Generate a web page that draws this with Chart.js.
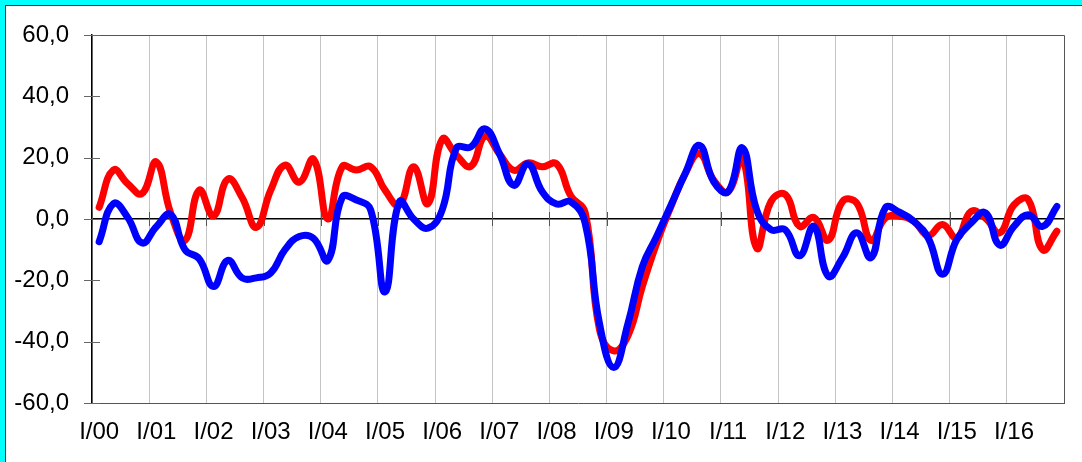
<!DOCTYPE html>
<html>
<head>
<meta charset="utf-8">
<script src="https://cdn.jsdelivr.net/npm/chart.js@4.4.1/dist/chart.umd.min.js"></script>
<style>
  html, body { margin: 0; padding: 0; background: #00FFFF; width: 1082px; height: 462px; overflow: hidden; }
  #frame { position: absolute; left: 5px; top: 5px; width: 1077px; height: 457px; background: #ffffff;
           border-left: 1px solid #333; border-top: 1px solid #333; box-sizing: border-box; }
  #c { position: absolute; left: 0; top: 0; }
</style>
</head>
<body>
<div id="frame"><canvas id="c" width="1076" height="456"></canvas></div>
<script>
// ---- data ----
const years = ["00","01","02","03","04","05","06","07","08","09","10","11","12","13","14","15","16"];
const quarterNames = ["I","II","III","IV"];
const yTicks = [-60, -40, -20, 0, 20, 40, 60];

const redSeries = [
  3.8, 16, 11.5, 8.3,
  18.6, 2, -7, 9.4,
  1, 13, 7, -2.7,
  9.4, 17.6, 12, 19.5,
  0, 17, 16, 17,
  9.4, 4.5, 17, 5,
  26, 20.8, 17.2, 27,
  21.3, 15.9, 18.3, 17,
  18, 7.5, 2.2, -36,
  -43, -38, -22, -7.9,
  4, 14.8, 21.3, 12.6,
  8.9, 20, -9.5, 5.7,
  8, -2.4, 0.5, -6.9,
  5.7, 5.2, -7, 0.3,
  0.9, -0.8, -5.4, -1.8,
  -6.2, 2.5, 0.3, -4.5,
  4.6, 6.3, -10, -4
];
const blueSeries = [
  -7.4, 5, 0.5, -7.8,
  -2.5, 1.5, -10, -13,
  -22, -13.5, -19.2, -19.2,
  -17.6, -10, -5.7, -6.3,
  -13.5, 7, 6.2, 2.9,
  -23.8, 5.6, 0, -3,
  3, 23.2, 23.5, 29.4,
  21.3, 11, 18, 8.9,
  4.9, 5.6, -1.4, -34,
  -48.4, -34, -15.5, -5.7,
  4.5, 14.8, 24, 12.1,
  8.9, 23.2, 3, -3.5,
  -3.5, -12, -2.4, -18.6,
  -12.6, -4.5, -12.6, 3.6,
  2.2, -0.8, -6.2, -18,
  -6.7, -1.3, 2, -8.5,
  -2.4, 1.4, -2.4, 4.1
];

const categories = [];
years.forEach(y => quarterNames.forEach(q => categories.push(q + "/" + y)));

const FONT = "'Liberation Sans', Arial, Helvetica, sans-serif";

const framePlugin = {
  id: 'framePlugin',
  beforeDatasetsDraw(chart) {
    const { ctx, chartArea } = chart;
    const xs = chart.scales.x, ys = chart.scales.y;
    ctx.save();
    ctx.strokeStyle = '#555';
    ctx.lineWidth = 1;
    ctx.beginPath();
    ctx.moveTo(chartArea.left, chartArea.top + 0.5);
    ctx.lineTo(chartArea.right + 0.5, chartArea.top + 0.5);
    ctx.lineTo(chartArea.right + 0.5, chartArea.bottom);
    ctx.stroke();
    ctx.strokeStyle = '#666';
    yTicks.forEach(v => {
      const py = Math.round(ys.getPixelForValue(v)) + 0.5;
      ctx.beginPath();
      ctx.moveTo(chartArea.left - 8, py);
      ctx.lineTo(chartArea.left + 8, py);
      ctx.stroke();
    });
    const y0 = ys.getPixelForValue(0);
    const half = (xs.getPixelForValue(1) - xs.getPixelForValue(0)) / 2;
    ctx.strokeStyle = '#555';
    for (let i = 0; i <= categories.length; i += 4) {
      const px = Math.round(xs.getPixelForValue(Math.min(i, categories.length - 1)) + (i === categories.length ? half : -half)) + 0.5;
      ctx.beginPath();
      ctx.moveTo(px, y0 - 7);
      ctx.lineTo(px, y0 + 7);
      ctx.stroke();
    }
    ctx.restore();
  }
};

new Chart(document.getElementById('c'), {
  type: 'line',
  data: {
    labels: categories,
    datasets: [
      { label: 'B', data: blueSeries, borderColor: '#0000FF', borderWidth: 7, pointRadius: 0,
        tension: 0.45, fill: false, borderCapStyle: 'round', borderJoinStyle: 'round' },
      { label: 'A', data: redSeries, borderColor: '#FF0000', borderWidth: 7, pointRadius: 0,
        tension: 0.45, fill: false, borderCapStyle: 'round', borderJoinStyle: 'round' }
    ]
  },
  options: {
    responsive: false,
    animation: false,
    devicePixelRatio: 1,
    layout: { padding: { top: 29, right: 18, bottom: 0, left: 0 } },
    plugins: { legend: { display: false }, tooltip: { enabled: false }, title: { display: false } },
    scales: {
      x: {
        type: 'category',
        offset: true,
        afterFit(s) { s.height = 59; s.paddingLeft = 0; s.paddingRight = 0; },
        grid: {
          offset: true,
          drawTicks: false,
          color: ctx => (ctx.index % 4 === 0 ? '#c4c4c4' : 'rgba(0,0,0,0)'),
          lineWidth: 1
        },
        border: { display: true, color: '#555', width: 1 },
        ticks: {
          autoSkip: false,
          maxRotation: 0,
          minRotation: 0,
          padding: 15,
          color: '#000',
          font: { family: FONT, size: 24 },
          callback: function (v, i) {
            const l = categories[i];
            return l.startsWith('I/') ? l : '';
          }
        }
      },
      y: {
        min: -60,
        max: 60,
        afterFit(s) { s.width = 86; s.paddingTop = 0; s.paddingBottom = 0; },
        afterBuildTicks(s) { s.ticks = yTicks.map(v => ({ value: v })); },
        grid: {
          drawTicks: false,
          color: ctx => (ctx.tick && ctx.tick.value === 0 ? '#000' : 'rgba(0,0,0,0)'),
          lineWidth: 1.5
        },
        border: { display: true, color: '#000', width: 1.5 },
        ticks: {
          padding: 23,
          color: '#000',
          font: { family: FONT, size: 24 },
          callback: v => v.toFixed(1).replace('.', ',')
        }
      }
    }
  },
  plugins: [framePlugin]
});
</script>
</body>
</html>
